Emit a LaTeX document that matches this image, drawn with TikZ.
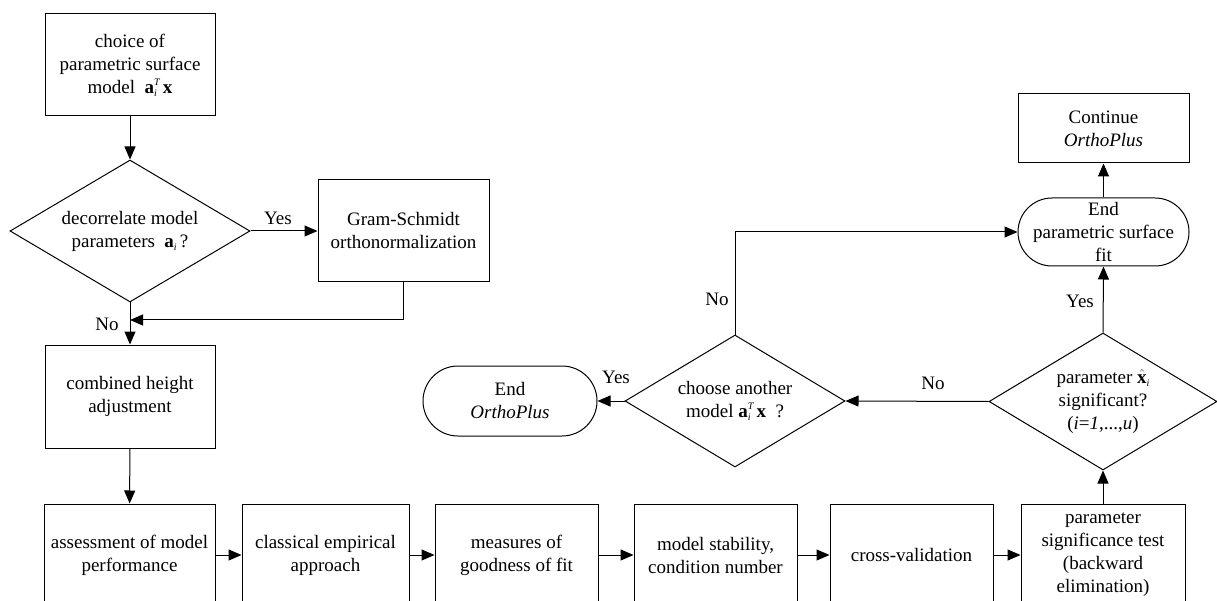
\documentclass[tikz,border=0pt]{standalone}
\usepackage{fontspec}
\setmainfont{Liberation Serif}
\newfontfamily\diagfont{Liberation Serif}
\usetikzlibrary{shapes.geometric,arrows.meta}
% bold vectors with small italic indices, kept inside the line height
\newcommand{\idx}[1]{{\fontsize{10}{10}\selectfont\itshape #1}}
\newcommand{\vecax}{\textbf{a}\rlap{\raisebox{-3pt}{\idx{i}}}\raisebox{8pt}{\idx{T}}\,\textbf{x}}
\newcommand{\veca}{\textbf{a}\raisebox{-3pt}{\idx{i}}}
\newcommand{\vecxhat}{$\hat{\textbf{x}}$\raisebox{-3pt}{\idx{i}}}
\begin{document}
\begin{tikzpicture}[x=1pt,y=-1pt,
  every node/.style={font=\diagfont\fontsize{19}{23}\selectfont},
  arr/.style={line width=1pt,-{Triangle[length=13pt,width=11pt]}},
  stepbox/.style={draw,line width=1pt,rectangle,inner sep=0pt,align=center,
    minimum width=#1,minimum height=102pt},
  stepbox/.default=170pt,
  decision/.style={draw,line width=1pt,diamond,inner sep=0pt,align=center},
  terminal/.style={draw,line width=1pt,rectangle,rounded corners=#1,inner sep=0pt,align=center},
  lbl/.style={inner sep=0pt}]
\useasboundingbox (0,0) rectangle (1217,601);
\clip (0,0) rectangle (1217,601);

% left column
\node[stepbox] (choice) at (130,65) {choice of\\parametric surface\\model \ \vecax};
\node[decision,minimum width=240pt,minimum height=142pt,aspect=1.69] (dec) at (130,231)
  {decorrelate model\\parameters \ \veca\,?};
\node[stepbox=171pt] (gram) at (403.5,231) {Gram-Schmidt\\orthonormalization};
\node[stepbox,minimum height=103pt] (comb) at (130,396.5) {combined height\\adjustment};
\coordinate (merge) at (130,320);

% bottom row
\node[stepbox=171pt] (assess) at (129.5,555) {assessment of model\\performance};
\node[stepbox=167pt] (classic) at (325.5,555) {classical empirical\\approach};
\node[stepbox=163pt] (fit) at (516.5,555) {measures of\\goodness of fit};
\node[stepbox=163pt] (stab) at (715.5,555) {model stability,\\condition number};
\node[stepbox=163pt] (cross) at (911.5,555) {cross-validation};
\node[stepbox=164pt] (sig) at (1103,555) {parameter\\significance test\\(backward\\elimination)};

% right part
\node[decision,minimum width=228pt,minimum height=137pt,aspect=1.66] (dsig) at (1103,401.5)
  {parameter \vecxhat\\significant?\\(\textit{i}=\textit{1},...,\textit{u})};
\node[decision,minimum width=220pt,minimum height=132pt,aspect=1.67] (dnext) at (735,401)
  {choose another\\model \vecax\ \ ?};
\node[terminal=35pt,minimum width=174pt,minimum height=70pt] (endop) at (510,401)
  {End\\\textit{OrthoPlus}};
\node[terminal=34pt,minimum width=171pt,minimum height=68pt] (endfit) at (1103.5,232)
  {End\\parametric surface\\fit};
\node[stepbox=171pt,minimum height=69pt] (cont) at (1103.5,128.5) {Continue\\\textit{OrthoPlus}};

% connectors
\draw[arr] (choice) -- (dec);
\draw[arr] (dec.east) -- (gram.west);
\node[lbl] at (278,218) {Yes};
\draw[arr] (gram.south) |- (merge);
\draw[arr] (dec.south) -- (comb.north);
\node[lbl] at (107,324) {No};
\draw[arr] (comb) -- (assess);
\draw[arr] (assess) -- (classic);
\draw[arr] (classic) -- (fit);
\draw[arr] (fit) -- (stab);
\draw[arr] (stab) -- (cross);
\draw[arr] (cross) -- (sig);
\draw[arr] (sig.north) -- (dsig.south);
\draw[arr] (dsig.north) -- (endfit.south);
\node[lbl] at (1080,301) {Yes};
\draw[arr] (endfit) -- (cont);
\draw[arr] (dsig.west) -- (dnext.east);
\node[lbl] at (933,383) {No};
\draw[arr] (dnext.west) -- (endop.east);
\node[lbl] at (616,377) {Yes};
\draw[arr] (dnext.north) |- (endfit.west);
\node[lbl] at (717,299) {No};
\end{tikzpicture}
\end{document}
